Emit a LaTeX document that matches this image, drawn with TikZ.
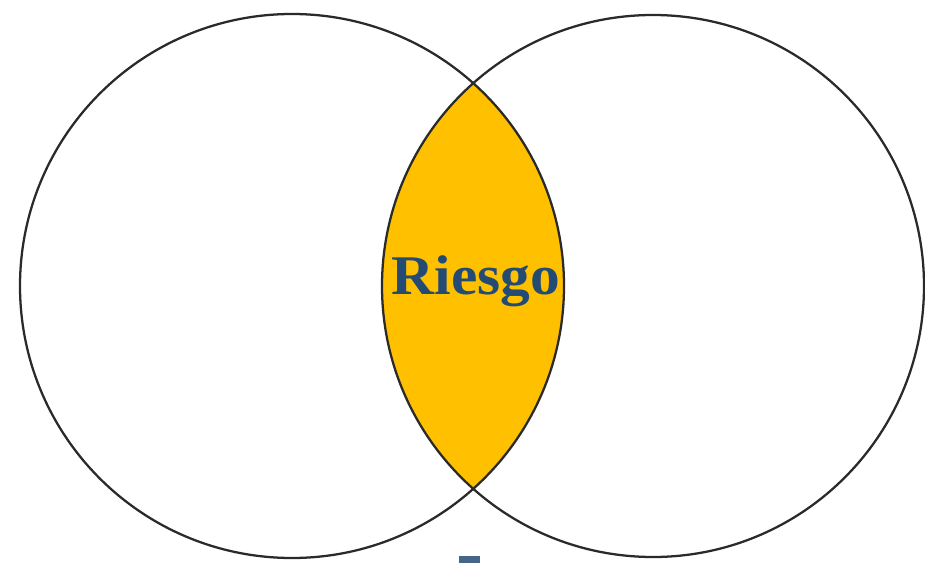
\documentclass[tikz,border=0pt]{standalone}
\usepackage{fontspec}
\setmainfont{Liberation Serif}
\definecolor{lensgold}{HTML}{FFC000}
\definecolor{textblue}{HTML}{244B73}
\definecolor{edge}{HTML}{2A2A2A}
\begin{document}
\begin{tikzpicture}[x=0.75pt,y=-0.75pt,
  ring/.style={draw=edge,line width=1.7pt},
  label/.style={font=\bfseries\fontsize{42}{42}\selectfont,text=textblue,inner sep=0pt,anchor=base,xscale=1.06},
  remnant/.style={fill=textblue!85!white}]
\useasboundingbox (0,0) rectangle (925,563);
\fill[white] (0,0) rectangle (925,563);
\coordinate (cl) at (292,286);
\coordinate (cr) at (653,286);
\begin{scope}
  \clip (cl) circle[radius=272];
  \fill[lensgold] (cr) circle[radius=271];
\end{scope}
\draw[ring] (cl) circle[radius=272];
\draw[ring] (cr) circle[radius=271];
\node[label] (riesgo) at (476,294) {Riesgo};
\fill[remnant] (459,556) rectangle (480,563);
\end{tikzpicture}
\end{document}
